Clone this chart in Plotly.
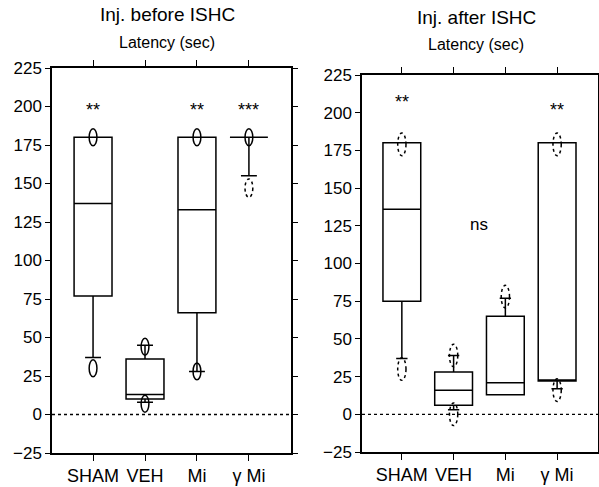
import plotly.graph_objects as go

# ---- data ----
categories = ["SHAM", "VEH", "Mi", "γ Mi"]
y_ticks = [-25, 0, 25, 50, 75, 100, 125, 150, 175, 200, 225]

# Injection before ISHC
before_q1 = [77, 10, 66, 180]
before_median = [137, 13, 133, 180]
before_q3 = [180, 36, 180, 180]
before_lowerfence = [37, 8, 28, 155]
before_upperfence = [180, 45, 180, 180]
before_outlier_cat = [0, 0, 1, 1, 2, 2, 3]
before_outlier_val = [180, 30, 44, 7, 180, 28, 180]
before_outlier_dashed_cat = [3]
before_outlier_dashed_val = [147]
before_sig = ["**", "", "**", "***"]
before_sig_y = [198, 198, 198, 198]

# Injection after ISHC
after_q1 = [75, 6, 13, 22]
after_median = [136, 16, 21, 22]
after_q3 = [180, 28, 65, 180]
after_lowerfence = [37, 3, 13, 17]
after_upperfence = [180, 39, 77, 180]
after_outlier_cat = [0, 0, 1, 1, 2, 3, 3]
after_outlier_val = [179, 30, 39, 0, 78, 179, 16]
after_sig = ["**", "", "", "**"]
after_sig_y = [207, 0, 0, 202]
after_ns_label = "ns"
after_ns_pos = [1.5, 126]

titles = ["Inj. before ISHC", "Inj. after ISHC"]
subtitle = "Latency (sec)"

# ---- layout geometry (pixels of 599x487 canvas) ----
W, H = 599, 487
FONT = "Liberation Sans, Arial, Helvetica, sans-serif"

fig = go.Figure()

def add_box(q1, med, q3, lo, hi, xa, ya, ww):
    fig.add_trace(go.Box(
        x=list(range(len(categories))), q1=q1, median=med, q3=q3,
        lowerfence=lo, upperfence=hi, width=0.73, whiskerwidth=ww,
        boxpoints=False, fillcolor="rgba(0,0,0,0)",
        line=dict(color="black", width=1.5),
        xaxis=xa, yaxis=ya, showlegend=False, hoverinfo="skip"))

add_box(before_q1, before_median, before_q3, before_lowerfence, before_upperfence, "x", "y", 0.42)
add_box(after_q1, after_median, after_q3, after_lowerfence, after_upperfence, "x2", "y2", 0.3)

def add_ovals(cats, vals, xref, yref, hw, hh, dash):
    for c, v in zip(cats, vals):
        fig.add_shape(type="circle", xref=xref, yref=yref,
                      x0=c - hw, x1=c + hw, y0=v - hh, y1=v + hh,
                      line=dict(color="black", width=1.5, dash=dash),
                      fillcolor="rgba(0,0,0,0)")

add_ovals(before_outlier_cat, before_outlier_val, "x", "y", 0.075, 5.5, "solid")
add_ovals(before_outlier_dashed_cat, before_outlier_dashed_val, "x", "y", 0.075, 6, "dot")
add_ovals(after_outlier_cat, after_outlier_val, "x2", "y2", 0.08, 7.5, "dot")

# zero reference lines
for xr, yr in (("x domain", "y"), ("x2 domain", "y2")):
    fig.add_shape(type="line", xref=xr, yref=yr, x0=0, x1=1, y0=0, y1=0,
                  line=dict(color="black", width=1.3, dash="dot"))

# significance stars
for i, s in enumerate(before_sig):
    if s:
        fig.add_annotation(x=i, y=before_sig_y[i], xref="x", yref="y", text=s,
                           showarrow=False, font=dict(size=18, family=FONT, color="black"))
for i, s in enumerate(after_sig):
    if s:
        fig.add_annotation(x=i, y=after_sig_y[i], xref="x2", yref="y2", text=s,
                           showarrow=False, font=dict(size=18, family=FONT, color="black"))
fig.add_annotation(x=after_ns_pos[0], y=after_ns_pos[1], xref="x2", yref="y2",
                   text=after_ns_label, showarrow=False,
                   font=dict(size=17, family=FONT, color="black"))

# titles
for cx, ty, sy, t in ((167, 15, 42, titles[0]), (476, 17, 45, titles[1])):
    fig.add_annotation(x=cx / W, y=1 - ty / H, xref="paper", yref="paper", text=t,
                       showarrow=False, font=dict(size=19, family=FONT, color="black"),
                       xanchor="center", yanchor="middle")
    fig.add_annotation(x=cx / W, y=1 - sy / H, xref="paper", yref="paper", text=subtitle,
                       showarrow=False, font=dict(size=16, family=FONT, color="black"),
                       xanchor="center", yanchor="middle")

axis_common = dict(showline=True, linecolor="black", linewidth=1.5, mirror="ticks",
                   ticks="outside", tickcolor="black", tickwidth=1.3, showgrid=False,
                   zeroline=False, automargin=False,
                   tickfont=dict(size=17, family=FONT, color="black"))
xfont = dict(size=18, family=FONT, color="black")

fig.update_layout(
    template="none",
    width=W, height=H, margin=dict(l=0, r=0, t=0, b=0, pad=0),
    paper_bgcolor="white", plot_bgcolor="white", showlegend=False,
    xaxis=dict(axis_common, domain=[52 / W, 291 / W], range=[-0.79, 3.81],
               tickvals=list(range(4)), ticktext=categories, ticklen=6, tickfont=xfont),
    yaxis=dict(axis_common, domain=[1 - 453 / H, 1 - 68 / H], range=[-25, 225],
               tickvals=y_ticks, ticklen=5),
    xaxis2=dict(axis_common, domain=[362 / W, 598 / W], range=[-0.77, 3.79],
                tickvals=list(range(4)), ticktext=categories, ticklen=6, anchor="y2",
                tickfont=xfont),
    yaxis2=dict(axis_common, domain=[1 - 452 / H, 1 - 75 / H], range=[-25, 225],
                tickvals=y_ticks, ticklen=5, anchor="x2"),
)

fig.write_html("out.html", config={"displayModeBar": False},
               post_script="document.body.style.margin='0';document.documentElement.style.overflow='hidden';")
